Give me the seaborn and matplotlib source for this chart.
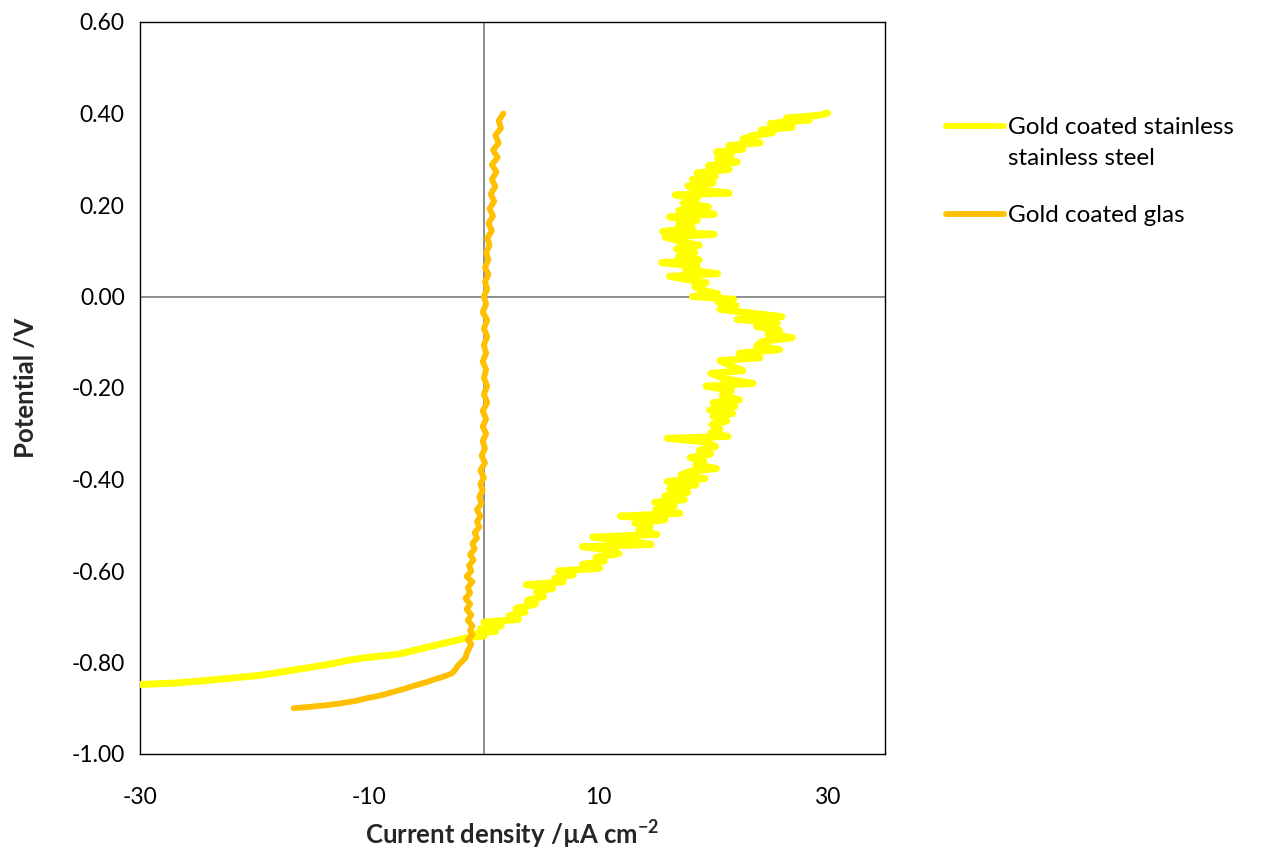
import matplotlib
matplotlib.use("Agg")
import matplotlib.pyplot as plt
from matplotlib.lines import Line2D
import pandas as pd
import seaborn as sns

# Polarisation curve of gold coated stainless steel: potential (V) and current density (uA cm-2)
steel_potential = [
    -0.848, -0.845, -0.840, -0.834, -0.828, -0.820, -0.812, -0.804, -0.796, -0.790,
    -0.786, -0.782, -0.776, -0.770, -0.764, -0.758, -0.752, -0.746, -0.742, -0.738,
    -0.732, -0.726, -0.720, -0.712, -0.706, -0.698, -0.690, -0.682, -0.672, -0.664,
    -0.656, -0.646, -0.638, -0.630, -0.624, -0.616, -0.608, -0.600, -0.594, -0.586,
    -0.578, -0.570, -0.562, -0.554, -0.547, -0.542, -0.534, -0.526, -0.520, -0.512,
    -0.504, -0.496, -0.488, -0.480, -0.474, -0.466, -0.458, -0.450, -0.444, -0.436,
    -0.428, -0.420, -0.412, -0.404, -0.398, -0.390, -0.382, -0.376, -0.368, -0.360,
    -0.352, -0.344, -0.336, -0.328, -0.318, -0.310, -0.306, -0.298, -0.290, -0.280,
    -0.272, -0.262, -0.256, -0.248, -0.240, -0.232, -0.226, -0.216, -0.206, -0.196,
    -0.190, -0.180, -0.168, -0.162, -0.150, -0.140, -0.134, -0.124, -0.116, -0.108,
    -0.098, -0.090, -0.082, -0.074, -0.066, -0.058, -0.050, -0.044, -0.036, -0.028,
    -0.020, -0.012, -0.006, 0.000, 0.006, 0.014, 0.022, 0.030, 0.038, 0.044,
    0.050, 0.058, 0.066, 0.074, 0.080, 0.088, 0.096, 0.104, 0.112, 0.120,
    0.130, 0.136, 0.142, 0.150, 0.158, 0.166, 0.174, 0.180, 0.188, 0.196,
    0.204, 0.214, 0.222, 0.226, 0.234, 0.242, 0.248, 0.256, 0.262, 0.270,
    0.278, 0.286, 0.294, 0.302, 0.310, 0.316, 0.322, 0.330, 0.336, 0.344,
    0.352, 0.358, 0.364, 0.370, 0.378, 0.386, 0.390, 0.396, 0.401,
]
steel_current = [
    -30.0, -27.0, -24.5, -22.0, -19.5, -17.5, -15.5, -13.5, -12.0, -10.5,
    -9.0, -7.5, -6.5, -5.5, -4.5, -3.5, -2.5, -1.5, 0.0, -1.0,
    1.0, -0.3, 1.5, 0.0, 3.0, 2.2, 3.6, 2.8, 4.5, 3.8,
    5.2, 4.6, 6.0, 3.7, 6.9, 6.2, 7.8, 6.5, 10.1, 8.6,
    10.5, 9.8, 11.8, 11.0, 8.6, 14.6, 12.5, 9.5, 15.1, 13.5,
    14.5, 13.2, 15.8, 11.9, 17.1, 15.0, 16.6, 14.9, 17.5, 15.8,
    17.8, 16.2, 18.5, 16.0, 19.3, 17.2, 18.0, 20.3, 18.5, 19.2,
    18.0, 19.8, 18.8, 20.2, 19.4, 16.0, 21.3, 19.8, 20.6, 19.9,
    21.2, 20.0, 21.7, 19.7, 21.9, 20.0, 22.3, 20.8, 21.6, 19.4,
    23.5, 21.0, 19.8, 22.6, 21.4, 20.6, 24.1, 22.3, 25.8, 23.8,
    24.3, 26.9, 24.8, 25.8, 23.8, 25.6, 22.1, 26.0, 23.2, 20.6,
    22.0, 20.4, 21.8, 18.2, 20.4, 19.0, 18.4, 19.4, 17.6, 16.2,
    20.4, 17.6, 18.6, 15.5, 18.8, 17.0, 18.4, 16.8, 18.8, 17.2,
    15.8, 20.1, 15.6, 18.2, 17.0, 18.6, 16.2, 20.1, 17.0, 19.6,
    17.4, 18.6, 16.7, 21.4, 18.4, 17.8, 20.0, 18.2, 20.2, 18.6,
    21.4, 19.6, 22.1, 20.4, 21.6, 20.3, 22.6, 21.4, 24.1, 22.6,
    23.5, 25.2, 24.2, 26.9, 25.0, 28.4, 26.4, 29.2, 30.0,
]

# Polarisation curve of gold coated glass
glass_potential = [
    -0.900, -0.897, -0.893, -0.889, -0.884, -0.878, -0.872, -0.865, -0.858, -0.850,
    -0.843, -0.836, -0.830, -0.824, -0.816, -0.808, -0.800, -0.790, -0.780, -0.770,
    -0.760, -0.750, -0.740, -0.730, -0.720, -0.708, -0.696, -0.684, -0.672, -0.660,
    -0.648, -0.636, -0.624, -0.612, -0.600, -0.588, -0.576, -0.564, -0.552, -0.540,
    -0.528, -0.516, -0.504, -0.492, -0.480, -0.466, -0.452, -0.438, -0.424, -0.410,
    -0.396, -0.380, -0.364, -0.348, -0.332, -0.316, -0.300, -0.284, -0.268, -0.250,
    -0.232, -0.214, -0.196, -0.178, -0.160, -0.142, -0.124, -0.106, -0.088, -0.070,
    -0.052, -0.034, -0.016, 0.000, 0.016, 0.032, 0.048, 0.064, 0.080, 0.096,
    0.112, 0.128, 0.144, 0.160, 0.176, 0.192, 0.208, 0.224, 0.240, 0.256,
    0.272, 0.288, 0.304, 0.320, 0.336, 0.352, 0.368, 0.384, 0.400,
]
glass_current = [
    -16.6, -15.2, -13.6, -12.4, -11.2, -10.2, -9.0, -8.0, -7.0, -6.0,
    -5.0, -4.2, -3.4, -2.8, -2.5, -2.3, -2.0, -1.6, -1.5, -1.3,
    -1.1, -1.4, -1.0, -1.2, -1.0, -1.4, -1.1, -1.5, -1.2, -1.6,
    -1.2, -1.4, -1.0, -1.5, -1.1, -1.3, -0.9, -1.2, -0.8, -1.0,
    -0.6, -0.8, -0.4, -0.6, -0.3, -0.6, -0.2, -0.4, -0.1, -0.3,
    0.0, -0.3, 0.1, -0.2, 0.1, -0.1, 0.2, -0.1, 0.2, -0.1,
    0.3, 0.0, 0.3, 0.0, 0.2, -0.1, 0.2, 0.0, 0.3, 0.0,
    0.3, -0.1, 0.2, 0.0, 0.3, 0.1, 0.4, 0.1, 0.4, 0.2,
    0.5, 0.3, 0.7, 0.4, 0.8, 0.5, 0.9, 0.6, 1.0, 0.7,
    1.1, 0.7, 1.2, 0.8, 1.3, 1.0, 1.5, 1.3, 1.7,
]

series_labels = ["Gold coated stainless\nstainless steel", "Gold coated glas"]
series_colors = ["#FFFF00", "#FFC000"]
y_ticks = [-1.0, -0.8, -0.6, -0.4, -0.2, 0.0, 0.2, 0.4, 0.6]
x_ticks = [-30, -10, 10, 30]

sns.set_theme(style="white")
plt.rcParams["font.family"] = ["Lato", "DejaVu Sans"]
plt.rcParams["mathtext.fontset"] = "custom"
plt.rcParams["mathtext.rm"] = "Lato"
plt.rcParams["mathtext.bf"] = "Lato:bold"

steel = pd.DataFrame({"current": steel_current, "potential": steel_potential})
glass = pd.DataFrame({"current": glass_current, "potential": glass_potential})

W, H = 1278, 850
fig = plt.figure(figsize=(W / 100, H / 100), dpi=100)
ax = fig.add_axes([140 / W, 1 - 754 / H, (885 - 140) / W, (754 - 22) / H])

ax.axhline(0, color="#868686", lw=1.3, zorder=1)
ax.axvline(0, color="#868686", lw=1.3, zorder=1)

line_kw = dict(sort=False, estimator=None, legend=False, ax=ax, zorder=3)
sns.lineplot(data=steel, x="current", y="potential", color=series_colors[0],
             lw=5.0, solid_capstyle="round", solid_joinstyle="round", **line_kw)
sns.lineplot(data=glass, x="current", y="potential", color=series_colors[1],
             lw=4.2, solid_capstyle="round", solid_joinstyle="round", **line_kw)

ax.set_xlim(-30, 35)
ax.set_ylim(-1.0, 0.6)
ax.set_xticks(x_ticks)
ax.set_xticklabels([str(v) for v in x_ticks])
ax.set_yticks(y_ticks)
ax.set_yticklabels([f"{v:.2f}" for v in y_ticks])
ax.tick_params(axis="x", length=0, pad=24, labelsize=16.5, colors="#000000")
ax.tick_params(axis="y", length=0, pad=11, labelsize=16.5, colors="#000000")

for spine in ax.spines.values():
    spine.set_color("#000000")
    spine.set_linewidth(1.0)

ax.set_xlabel(r"Current density /µA cm$^{\mathbf{-2}}$", fontsize=18.5,
              fontweight="bold", labelpad=7)
ax.set_ylabel("Potential /V", fontsize=18.5, fontweight="bold", labelpad=24)

# Legend beside the plot: key line level with the first line of each entry
legend_rows = [126, 214]
for label, color, row in zip(series_labels, series_colors, legend_rows):
    fig.add_artist(Line2D([946 / W, 1004 / W], [1 - row / H, 1 - row / H],
                          transform=fig.transFigure, color=color, lw=4.2,
                          solid_capstyle="round"))
    fig.text(1008 / W, 1 - (row - 9) / H, label, fontsize=17.5,
             ha="left", va="top", linespacing=1.6, color="#000000")

fig.savefig("out.png", dpi=100)
